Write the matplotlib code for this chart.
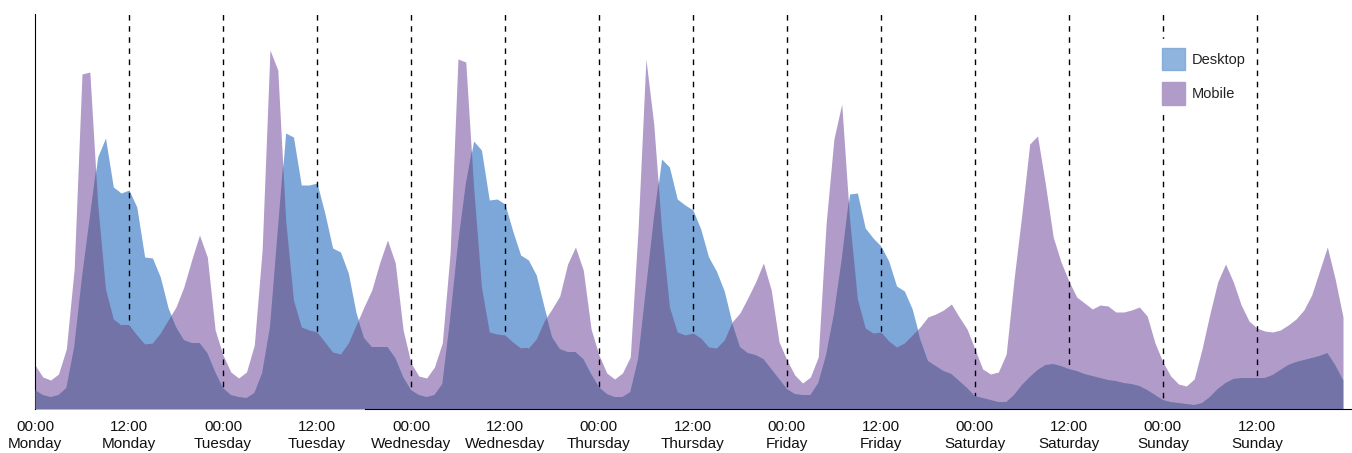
import numpy as np
import matplotlib.pyplot as plt
from matplotlib.patches import Patch

plt.rcParams['font.family'] = ['Liberation Sans', 'DejaVu Sans']

# hourly traffic, Monday 00:00 .. Sunday 23:00 (arbitrary units)
hours = np.arange(168)

desktop = [
    19, 14, 12, 14, 21, 62, 132, 192, 252, 271, 222, 216, 219, 202, 152, 151, 132, 101, 82, 69, 66, 66, 56, 37,
    21, 14, 12, 11, 16, 36, 82, 179, 276, 272, 224, 224, 226, 196, 161, 157, 136, 96, 71, 62, 62, 62, 51, 32,
    19, 14, 12, 14, 25, 90, 165, 225, 268, 259, 209, 210, 205, 178, 154, 149, 134, 102, 72, 60, 57, 57, 50, 35,
    22, 15, 12, 12, 17, 50, 120, 190, 250, 242, 210, 204, 199, 180, 152, 138, 118, 86, 62, 56, 54, 50, 40, 30,
    20, 15, 14, 14, 26, 54, 95, 150, 215, 216, 181, 171, 163, 148, 123, 118, 100, 70, 48, 43, 38, 35, 28, 21,
    13, 11, 9, 7, 7, 14, 24, 32, 39, 44, 45, 43, 40, 38, 35, 33, 31, 29, 28, 26, 25, 23, 19, 14,
    9, 7, 6, 5, 4, 6, 12, 20, 26, 30, 31, 31, 31, 31, 34, 39, 44, 47, 49, 51, 53, 56, 44, 29,
]

mobile = [
    44, 32, 29, 35, 60, 140, 335, 337, 205, 120, 90, 84, 84, 74, 65, 66, 76, 89, 102, 122, 149, 174, 152, 79,
    54, 37, 31, 37, 64, 159, 359, 339, 189, 109, 82, 79, 77, 67, 57, 55, 66, 84, 102, 119, 146, 169, 146, 79,
    46, 33, 31, 42, 66, 156, 350, 347, 222, 122, 77, 75, 74, 67, 61, 61, 70, 88, 100, 113, 145, 162, 139, 80,
    54, 36, 30, 36, 52, 180, 350, 285, 180, 102, 77, 74, 76, 71, 62, 61, 69, 87, 96, 111, 127, 146, 119, 67,
    49, 34, 26, 32, 52, 185, 270, 305, 190, 110, 81, 76, 77, 68, 62, 66, 74, 82, 92, 95, 99, 105, 92, 80,
    60, 40, 35, 37, 55, 130, 195, 265, 273, 225, 172, 147, 128, 112, 106, 100, 104, 103, 97, 97, 99, 102, 93, 66,
    47, 33, 25, 23, 30, 60, 95, 127, 145, 127, 104, 88, 81, 78, 77, 79, 84, 90, 99, 114, 138, 162, 130, 92,
]

days = ['Monday', 'Tuesday', 'Wednesday', 'Thursday', 'Friday', 'Saturday', 'Sunday']
tick_hours = np.arange(0, 168, 12)
tick_labels = ['%s\n%s' % ('00:00' if h % 24 == 0 else '12:00', days[h // 24]) for h in tick_hours]

c_desktop = '#7ca7d8'
c_mobile = '#b19cc9'
c_both = '#7373a8'

fig = plt.figure(figsize=(13.52, 4.53), dpi=100)
ax = fig.add_axes([35 / 1352, 1 - 409 / 453, 1317 / 1352, 395 / 453])

ax.fill_between(hours, 0, mobile, color=c_mobile, lw=0, zorder=1)
dpoly = ax.fill_between(hours, 0, desktop, color=c_desktop, lw=0, zorder=1)

for h in tick_hours[1:]:
    ax.axvline(h, color='black', lw=1, ls=(0, (4, 4)), zorder=2)

# overlap of the two areas
both = ax.fill_between(hours, 0, mobile, color=c_both, lw=0, zorder=3)
both.set_clip_path(dpoly.get_paths()[0], ax.transData)

ax.set_xlim(0, 167 + 9 / 7.832)
ax.set_ylim(0, 395)
ax.set_xticks(tick_hours)
ax.set_xticklabels(tick_labels, fontsize=11, linespacing=1.3, color='#111111')
ax.tick_params(axis='x', length=0, pad=8)
ax.set_yticks([])

for s in ['top', 'right']:
    ax.spines[s].set_visible(False)
ax.spines['left'].set_color('black')
ax.spines['bottom'].set_bounds(42.1, 167 + 9 / 7.832)
ax.spines['bottom'].set_zorder(4)

handles = [Patch(color=c_desktop, alpha=0.85, label='Desktop'),
           Patch(color=c_mobile, label='Mobile')]
leg = ax.legend(handles=handles, loc='upper left', bbox_to_anchor=(1111 / 1317, 0.955),
                frameon=True, framealpha=1, edgecolor='white', fancybox=False,
                handlelength=1.58, handleheight=1.97, handletextpad=0.45,
                labelspacing=0.85, fontsize=10.5, borderpad=0.6)
for t in leg.get_texts():
    t.set_color('#222222')
leg.set_zorder(5)

fig.savefig('out.png', dpi=100)
